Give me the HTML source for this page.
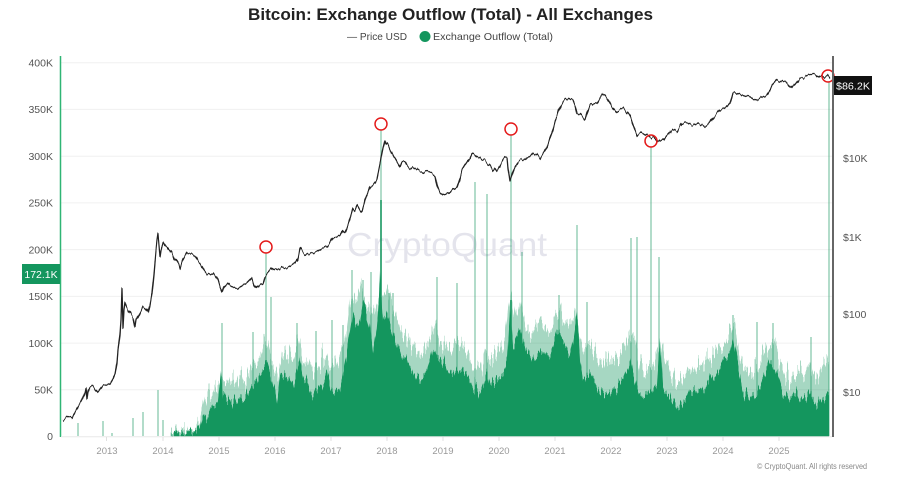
<!DOCTYPE html>
<html><head><meta charset="utf-8"><style>
html,body{margin:0;padding:0;background:#fff;}
svg{display:block;font-family:"Liberation Sans",sans-serif;}
</style></head><body>
<svg width="919" height="488" viewBox="0 0 919 488" xmlns="http://www.w3.org/2000/svg">
<defs>
<clipPath id="pc"><rect x="61" y="50" width="770" height="386.8"/></clipPath>
<filter id="fl" x="-2%" y="-30%" width="104%" height="160%" color-interpolation-filters="sRGB">
<feTurbulence type="fractalNoise" baseFrequency="0.55 0.002" numOctaves="2" seed="7" result="n"/>
<feColorMatrix in="n" type="matrix" values="1 0 0 0 0  0 0 0 0 0.5  0 0 0 0 0  0 0 0 0 1" result="m"/>
<feDisplacementMap in="SourceGraphic" in2="m" scale="44" xChannelSelector="G" yChannelSelector="R"/>
</filter>
<filter id="fd" x="-2%" y="-30%" width="104%" height="160%" color-interpolation-filters="sRGB">
<feTurbulence type="fractalNoise" baseFrequency="0.5 0.002" numOctaves="2" seed="3" result="n"/>
<feColorMatrix in="n" type="matrix" values="1 0 0 0 0  0 0 0 0 0.5  0 0 0 0 0  0 0 0 0 1" result="m"/>
<feDisplacementMap in="SourceGraphic" in2="m" scale="26" xChannelSelector="G" yChannelSelector="R"/>
</filter>
<filter id="fp" x="-2%" y="-10%" width="104%" height="120%" color-interpolation-filters="sRGB">
<feTurbulence type="fractalNoise" baseFrequency="0.3 0.02" numOctaves="2" seed="11" result="n"/>
<feColorMatrix in="n" type="matrix" values="1 0 0 0 0  0 0 0 0 0.5  0 0 0 0 0  0 0 0 0 1" result="m"/>
<feDisplacementMap in="SourceGraphic" in2="m" scale="7" xChannelSelector="G" yChannelSelector="R"/>
</filter>
</defs>
<rect width="919" height="488" fill="#fff"/>
<!-- title -->
<text x="450.5" y="20" text-anchor="middle" font-size="17" font-weight="bold" fill="#222" textLength="405" lengthAdjust="spacingAndGlyphs">Bitcoin: Exchange Outflow (Total) - All Exchanges</text>
<text x="347" y="40" font-size="10.5" fill="#444" textLength="60" lengthAdjust="spacingAndGlyphs">— Price USD</text>
<circle cx="425" cy="36.5" r="5.5" fill="#14965e"/>
<text x="433" y="40" font-size="10.5" fill="#444" textLength="120" lengthAdjust="spacingAndGlyphs">Exchange Outflow (Total)</text>
<!-- gridlines -->
<g stroke="#f0f0f0" stroke-width="1">
<line x1="61" x2="832" y1="62.7" y2="62.7"/>
<line x1="61" x2="832" y1="109.4" y2="109.4"/>
<line x1="61" x2="832" y1="156.2" y2="156.2"/>
<line x1="61" x2="832" y1="202.9" y2="202.9"/>
<line x1="61" x2="832" y1="249.6" y2="249.6"/>
<line x1="61" x2="832" y1="296.4" y2="296.4"/>
<line x1="61" x2="832" y1="343.1" y2="343.1"/>
<line x1="61" x2="832" y1="389.8" y2="389.8"/>
</g>
<!-- watermark -->
<text x="447" y="256" text-anchor="middle" font-size="33" fill="#e4e4ec" textLength="200" lengthAdjust="spacingAndGlyphs">CryptoQuant</text>
<!-- left tick labels -->
<g font-size="10.5" fill="#555" text-anchor="end">
<text x="53" y="66.5">400K</text>
<text x="53" y="113">350K</text>
<text x="53" y="160">300K</text>
<text x="53" y="206.5">250K</text>
<text x="53" y="253.5">200K</text>
<text x="53" y="300">150K</text>
<text x="53" y="347">100K</text>
<text x="53" y="393.5">50K</text>
<text x="53" y="440">0</text>
</g>
<g clip-path="url(#pc)">
<!-- light bars envelope -->
<g filter="url(#fl)">
<polygon fill="#14965e" fill-opacity="0.38" points="170,460 170,436 175,432 185,431 195,430 200,420 205,398 210,392 215,388 220,380 225,383 230,378 235,385 240,375 245,380 250,368 255,360 260,352 263,340 267,345 270,358 275,368 278,375 282,355 286,350 290,358 295,352 299,340 303,355 307,362 311,370 315,365 320,360 325,352 330,362 335,368 340,355 344,345 347,330 350,305 353,295 357,300 361,285 365,300 369,305 373,320 377,305 382,290 386,285 390,300 395,310 400,330 405,333 410,345 415,350 420,355 425,350 430,340 435,325 440,338 445,340 450,350 455,345 460,342 465,350 470,360 475,370 480,372 485,350 490,360 495,358 500,350 505,340 510,290 515,318 520,300 525,325 530,335 535,330 540,320 545,325 550,330 555,315 560,310 565,322 570,330 575,318 580,335 585,350 590,350 595,355 600,362 605,365 610,360 615,358 620,355 625,350 630,335 635,340 640,365 645,370 650,368 655,360 660,340 665,362 670,372 675,380 680,378 685,375 690,370 695,368 700,368 705,362 710,355 715,350 720,345 725,338 730,330 735,330 740,355 745,368 750,372 755,370 760,362 765,350 770,340 775,345 780,360 785,370 790,378 795,372 800,372 805,375 810,365 815,380 820,370 825,365 829,360 829,460"/>
</g>
<!-- dark bars envelope -->
<g filter="url(#fd)">
<polygon fill="#14965e" points="170,460 170,436 175,434 185,433 195,432 200,428 203,413 207,418 210,410 214,405 218,402 221,373 223,397 227,400 230,400 235,402 240,397 244,398 247,393 250,392 253,387 257,382 260,373 263,368 267,363 270,372 272,380 275,392 277,403 280,377 284,378 287,373 290,380 293,387 297,372 300,360 303,378 307,383 310,390 313,393 317,389 320,387 324,380 327,373 330,388 333,393 337,390 340,387 344,370 347,353 350,333 353,313 357,325 360,320 363,303 367,315 370,327 373,353 376,335 379,300 380,273 382,305 383,320 387,313 390,325 393,333 397,345 400,353 404,356 407,360 410,366 413,373 417,377 420,380 424,376 427,373 430,360 433,347 437,355 440,360 443,365 447,367 450,371 453,373 457,369 460,367 463,370 467,373 470,380 473,387 477,390 480,393 484,383 487,373 490,387 493,380 497,380 500,377 503,373 507,360 510,307 513,347 517,335 520,327 523,340 527,353 530,357 533,360 537,355 540,352 543,350 547,352 550,353 553,345 557,333 560,337 563,340 567,347 570,353 573,340 577,313 580,360 583,380 587,377 590,373 593,380 597,387 600,390 603,393 607,393 610,393 613,390 617,387 620,383 623,380 627,370 630,360 633,375 637,387 640,393 643,397 647,395 650,393 653,388 657,380 660,337 663,387 667,392 670,397 673,402 677,407 680,405 683,403 687,398 690,393 693,391 697,390 700,392 703,393 707,386 710,380 713,377 717,373 720,367 723,360 727,356 730,353 733,340 737,360 740,377 743,393 747,395 750,397 753,395 757,393 760,387 763,380 767,370 770,360 773,365 777,373 780,383 783,393 787,397 790,400 793,397 797,393 800,397 803,400 807,397 810,393 813,400 817,407 820,402 823,397 826,395 829,393 829,460"/>
</g>
</g>
<!-- spikes -->
<g stroke="#14965e" stroke-opacity="0.5" stroke-width="1.3">
<line x1="78" x2="78" y1="436" y2="423"/>
<line x1="103" x2="103" y1="436" y2="421"/>
<line x1="112" x2="112" y1="436" y2="433"/>
<line x1="133" x2="133" y1="436" y2="418"/>
<line x1="143" x2="143" y1="436" y2="412"/>
<line x1="158" x2="158" y1="436" y2="390"/>
<line x1="163" x2="163" y1="436" y2="420"/>
<line x1="222" x2="222" y1="436" y2="323"/>
<line x1="253" x2="253" y1="436" y2="332"/>
<line x1="266" x2="266" y1="436" y2="253"/>
<line x1="271" x2="271" y1="436" y2="297"/>
<line x1="297" x2="297" y1="436" y2="323"/>
<line x1="316" x2="316" y1="436" y2="331"/>
<line x1="332" x2="332" y1="436" y2="320"/>
<line x1="343" x2="343" y1="436" y2="325"/>
<line x1="352" x2="352" y1="436" y2="270"/>
<line x1="363" x2="363" y1="436" y2="280"/>
<line x1="371" x2="371" y1="436" y2="272"/>
<line x1="381" x2="381" y1="436" y2="130"/>
<line x1="389" x2="389" y1="436" y2="293"/>
<line x1="393" x2="393" y1="436" y2="293"/>
<line x1="437" x2="437" y1="436" y2="277"/>
<line x1="457" x2="457" y1="436" y2="283"/>
<line x1="475" x2="475" y1="436" y2="182"/>
<line x1="487" x2="487" y1="436" y2="194"/>
<line x1="511" x2="511" y1="436" y2="135"/>
<line x1="522" x2="522" y1="436" y2="252"/>
<line x1="559" x2="559" y1="436" y2="295"/>
<line x1="577" x2="577" y1="436" y2="225"/>
<line x1="587" x2="587" y1="436" y2="302"/>
<line x1="631" x2="631" y1="436" y2="238"/>
<line x1="637" x2="637" y1="436" y2="237"/>
<line x1="651" x2="651" y1="436" y2="147"/>
<line x1="659" x2="659" y1="436" y2="257"/>
<line x1="733" x2="733" y1="436" y2="315"/>
<line x1="757" x2="757" y1="436" y2="322"/>
<line x1="773" x2="773" y1="436" y2="323"/>
<line x1="811" x2="811" y1="436" y2="337"/>
<line x1="829" x2="829" y1="436" y2="82"/>
</g>
<g stroke="#14965e" stroke-width="1.5">
<line x1="381" x2="381" y1="436" y2="200"/>
<line x1="511" x2="511" y1="436" y2="300"/>
<line x1="266" x2="266" y1="436" y2="360"/>
</g>
<!-- price line -->
<g filter="url(#fp)">
<polyline fill="none" stroke="#222" stroke-width="1.3" stroke-linejoin="round" points="63,419 65,418 68,416 72,417 75,412 78,407 81,402 83,397 85,392 86,387 87,400 88,392 90,387 93,386 95,388 98,392 100,389 103,385 107,384 110,383 113,378 115,373 117,362 118,350 120,335 121,320 122,288 123,328 124,310 125,303 127,308 128,310 131,314 133,317 135,327 136,320 138,317 141,312 143,307 146,310 148,313 150,305 152,293 154,273 156,250 157,240 158,233 159,245 160,257 161,250 163,242 165,246 167,247 169,250 172,253 174,258 177,262 179,266 180,270 182,263 183,260 185,256 187,252 190,254 193,255 196,258 198,262 200,263 203,268 207,273 210,272 213,273 216,277 218,280 220,287 222,292 224,286 227,283 230,286 233,287 237,288 240,287 244,285 247,283 250,280 252,278 254,284 257,288 260,285 263,283 265,276 267,273 270,270 273,267 277,269 280,268 284,267 287,267 291,265 295,263 298,258 300,248 303,252 307,255 310,254 313,253 318,251 323,248 327,246 330,243 333,237 337,236 340,235 343,230 345,232 347,227 350,218 353,208 355,210 357,205 360,210 362,212 364,205 365,200 368,192 370,187 373,185 375,182 377,178 378,173 380,163 382,153 383,148 385,140 386,143 388,145 390,150 392,153 394,157 395,158 398,163 400,167 402,162 405,162 407,166 410,170 413,168 417,170 420,172 423,173 427,172 430,173 433,174 435,175 437,185 438,188 440,193 443,195 447,194 450,193 453,190 457,187 460,178 462,170 465,165 467,162 470,158 472,153 475,155 477,157 480,158 482,160 485,161 487,163 490,165 493,170 495,167 497,170 500,166 503,160 505,158 507,158 508,170 510,182 512,175 513,172 515,167 518,162 520,161 523,160 527,158 530,157 533,153 537,155 540,158 543,154 547,147 550,138 553,130 555,122 557,117 558,113 561,106 563,102 565,100 568,98 570,99 573,100 575,105 577,113 580,115 582,117 585,120 587,113 590,105 593,104 597,103 600,98 602,95 605,96 607,98 610,103 612,107 615,110 617,112 620,110 623,108 625,110 628,113 630,116 632,122 635,130 637,135 640,133 642,132 645,134 647,135 650,137 653,137 656,140 658,142 661,141 663,140 666,137 668,135 670,132 672,130 675,131 677,132 680,127 682,123 685,122 688,122 690,124 693,125 696,123 698,122 701,124 705,127 708,125 710,123 713,118 716,114 720,110 723,109 725,108 728,105 730,103 732,97 733,93 736,94 738,93 741,94 743,95 746,96 750,97 753,99 757,100 760,98 762,97 765,96 767,95 770,90 772,85 775,82 777,80 780,81 782,82 785,82 787,83 790,86 792,88 794,86 795,85 798,81 800,78 803,78 805,78 808,76 810,75 813,75 815,75 818,77 820,78 823,77 825,76 827,75 830,78"/>
</g>
<!-- red circles -->
<g fill="none" stroke="#e41b1b" stroke-width="1.5">
<circle cx="266" cy="247" r="6"/>
<circle cx="381" cy="124" r="6"/>
<circle cx="511" cy="129" r="6"/>
<circle cx="651" cy="141" r="6"/>
<circle cx="828" cy="76" r="6"/>
</g>
<!-- axes lines -->
<line x1="60.5" x2="60.5" y1="56" y2="437" stroke="#2fb574" stroke-width="1.5"/>
<line x1="833" x2="833" y1="56" y2="437" stroke="#666" stroke-width="2"/>
<line x1="61" x2="832" y1="436.8" y2="436.8" stroke="#e8e8e8" stroke-width="1"/>
<!-- left value box -->
<rect x="22" y="264" width="38" height="20" fill="#14965e"/>
<text x="41" y="278" text-anchor="middle" font-size="10.5" fill="#fff">172.1K</text>
<!-- right labels -->
<rect x="834" y="76" width="38" height="19" fill="#111"/>
<text x="853" y="89.5" text-anchor="middle" font-size="10.5" fill="#fff" textLength="34" lengthAdjust="spacingAndGlyphs">$86.2K</text>
<g font-size="10.5" fill="#555">
<text x="843" y="162">$10K</text>
<text x="843" y="241">$1K</text>
<text x="843" y="318">$100</text>
<text x="843" y="396">$10</text>
</g>
<!-- x ticks -->
<g stroke="#e0e0e0" stroke-width="1">
<line x1="106.5" x2="106.5" y1="437" y2="441"/>
<line x1="163" x2="163" y1="437" y2="441"/>
<line x1="219" x2="219" y1="437" y2="441"/>
<line x1="275" x2="275" y1="437" y2="441"/>
<line x1="331" x2="331" y1="437" y2="441"/>
<line x1="387" x2="387" y1="437" y2="441"/>
<line x1="443" x2="443" y1="437" y2="441"/>
<line x1="499" x2="499" y1="437" y2="441"/>
<line x1="555" x2="555" y1="437" y2="441"/>
<line x1="611" x2="611" y1="437" y2="441"/>
<line x1="667" x2="667" y1="437" y2="441"/>
<line x1="723" x2="723" y1="437" y2="441"/>
<line x1="779" x2="779" y1="437" y2="441"/>
</g>
<g font-size="9.5" fill="#999" text-anchor="middle">
<text x="107" y="454">2013</text>
<text x="163" y="454">2014</text>
<text x="219" y="454">2015</text>
<text x="275" y="454">2016</text>
<text x="331" y="454">2017</text>
<text x="387" y="454">2018</text>
<text x="443" y="454">2019</text>
<text x="499" y="454">2020</text>
<text x="555" y="454">2021</text>
<text x="611" y="454">2022</text>
<text x="667" y="454">2023</text>
<text x="723" y="454">2024</text>
<text x="779" y="454">2025</text>
</g>
<text x="757" y="469" font-size="8" fill="#888" textLength="110" lengthAdjust="spacingAndGlyphs">© CryptoQuant. All rights reserved</text>
</svg>
</body></html>
